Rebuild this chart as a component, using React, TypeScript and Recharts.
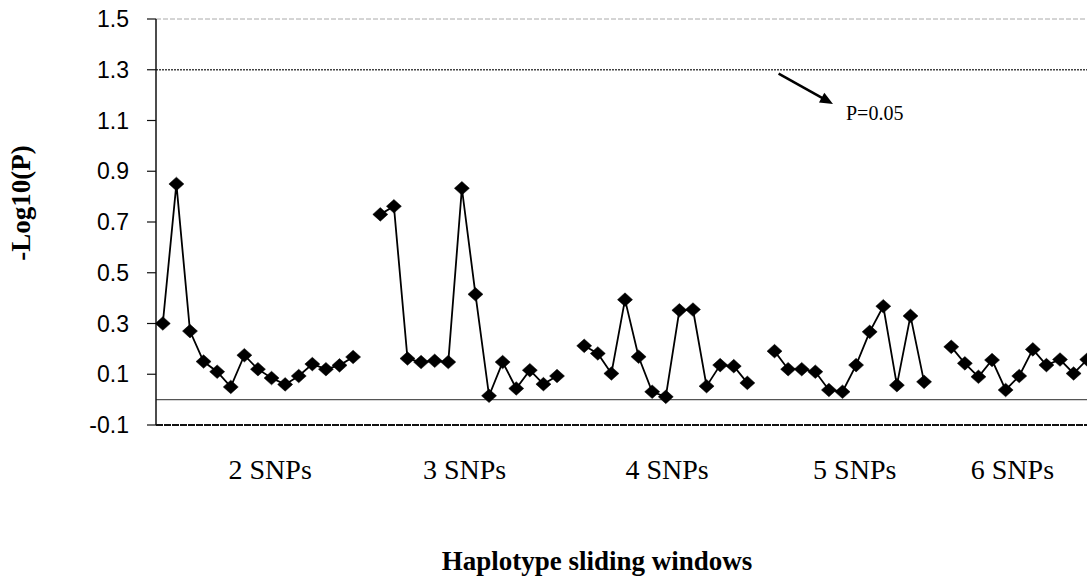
import React from 'react';
import { LineChart, Line, XAxis, YAxis, ReferenceLine } from 'recharts';

const groupLabels = ['2 SNPs', '3 SNPs', '4 SNPs', '5 SNPs', '6 SNPs'];
const labelPositions = [7.9, 22.2, 37.1, 50.9, 62.5];

const snps2 = [0.3, 0.85, 0.27, 0.15, 0.11, 0.05, 0.175, 0.12, 0.085, 0.06, 0.093, 0.14, 0.12, 0.135, 0.168];
const snps3 = [0.73, 0.762, 0.162, 0.148, 0.153, 0.148, 0.833, 0.415, 0.015, 0.148, 0.044, 0.116, 0.061, 0.093];
const snps4 = [0.212, 0.182, 0.103, 0.394, 0.169, 0.031, 0.011, 0.352, 0.355, 0.053, 0.136, 0.132, 0.066];
const snps5 = [0.191, 0.12, 0.12, 0.11, 0.038, 0.031, 0.136, 0.267, 0.368, 0.057, 0.33, 0.07];
const snps6 = [0.208, 0.143, 0.09, 0.156, 0.038, 0.093, 0.198, 0.136, 0.158, 0.103, 0.158];

const yTicks = [-0.1, 0.1, 0.3, 0.5, 0.7, 0.9, 1.1, 1.3, 1.5];
const threshold = 1.3;
const arrowStart = { x: 45.3, y: 1.285 };
const arrowEnd = { x: 49.3, y: 1.165 };
const annotation = 'P=0.05';

const groups = [snps2, snps3, snps4, snps5, snps6];
const data: { x: number; v: number | null }[] = [];
groups.forEach((g, gi) => {
  if (gi > 0) data.push({ x: data.length, v: null });
  g.forEach((v) => data.push({ x: data.length, v }));
});

const Diamond = (props: any) => {
  const { cx, cy, index } = props;
  if (cx == null || cy == null || props.value == null) return <g key={`d${index}`} />;
  const w = 7.5;
  const h = 6.8;
  return (
    <polygon
      key={`d${index}`}
      points={`${cx},${cy - h} ${cx + w},${cy} ${cx},${cy + h} ${cx - w},${cy}`}
      fill="#000"
      stroke="#000"
      strokeWidth={0.5}
    />
  );
};

const ArrowShape = (props: any) => {
  const { x1, y1, x2, y2 } = props;
  const dx = x2 - x1;
  const dy = y2 - y1;
  const len = Math.sqrt(dx * dx + dy * dy) || 1;
  const ux = dx / len;
  const uy = dy / len;
  const nx = -uy;
  const ny = ux;
  const L = 13;
  const W = 5.5;
  const bx = x2 - ux * L;
  const by = y2 - uy * L;
  return (
    <g>
      <line x1={x1} y1={y1} x2={bx + ux * 2} y2={by + uy * 2} stroke="#000" strokeWidth={2.5} />
      <polygon points={`${x2},${y2} ${bx + nx * W},${by + ny * W} ${bx - nx * W},${by - ny * W}`} fill="#000" />
      <text x={x2 + 13} y={y2 + 16} fontFamily="'Liberation Serif', 'Times New Roman', serif" fontSize={20} fill="#000">
        {annotation}
      </text>
    </g>
  );
};

const YLabel = () => (
  <text
    x={29.5}
    y={203}
    transform="rotate(-90 29.5 203)"
    textAnchor="middle"
    fontFamily="'Liberation Serif', 'Times New Roman', serif"
    fontWeight="bold"
    fontSize={27}
    fill="#000"
  >
    -Log10(P)
  </text>
);

export default function App() {
  return (
    <div style={{ position: 'absolute', left: 0, top: 0, width: 1087, height: 579, overflow: 'hidden', background: '#fff' }}>
      <LineChart width={1100} height={579} data={data} margin={{ top: 19, right: 6, bottom: 153, left: 0 }}>
        <XAxis
          dataKey="x"
          type="number"
          domain={[-0.5, 68.5]}
          ticks={labelPositions}
          interval={0}
          tickFormatter={(_v: any, i: number) => groupLabels[i]}
          tickLine={false}
          tickSize={0}
          tickMargin={34.5}
          height={1}
          axisLine={{ stroke: '#111', strokeWidth: 2, strokeDasharray: '7 1' }}
          tick={{ fill: '#000', fontSize: 28, fontFamily: "'Liberation Serif', 'Times New Roman', serif" }}
        />
        <YAxis
          type="number"
          domain={[-0.1, 1.5]}
          ticks={yTicks}
          interval={0}
          width={156}
          tickSize={9}
          tickMargin={18}
          tickFormatter={(v: number) => v.toFixed(1)}
          axisLine={{ stroke: '#111', strokeWidth: 1.5 }}
          tickLine={{ stroke: '#111', strokeWidth: 1.2 }}
          tick={{ fill: '#000', fontSize: 23, fontFamily: "'Liberation Sans', Arial, sans-serif" }}
          label={<YLabel />}
        />
        <ReferenceLine y={1.5} stroke="#aaa" strokeDasharray="5 2" strokeWidth={1} />
        <ReferenceLine y={threshold} stroke="#444" strokeDasharray="2 1" strokeWidth={1.5} />
        <ReferenceLine y={0} stroke="#555" strokeWidth={1.3} />
        <ReferenceLine
          segment={[arrowStart, arrowEnd]}
          ifOverflow="visible"
          shape={(p: any) => <ArrowShape {...p} />}
        />
        <Line
          dataKey="v"
          stroke="#000"
          strokeWidth={1.8}
          dot={(p: any) => <Diamond key={`d${p.index}`} {...p} />}
          activeDot={false}
          connectNulls={false}
          isAnimationActive={false}
        />
      </LineChart>
      <div
        style={{
          position: 'absolute',
          left: 597 - 250,
          width: 500,
          top: 546,
          textAlign: 'center',
          fontFamily: "'Liberation Serif', 'Times New Roman', serif",
          fontWeight: 'bold',
          fontSize: 27,
          lineHeight: '30px',
          color: '#000',
        }}
      >
        Haplotype sliding windows
      </div>
    </div>
  );
}
